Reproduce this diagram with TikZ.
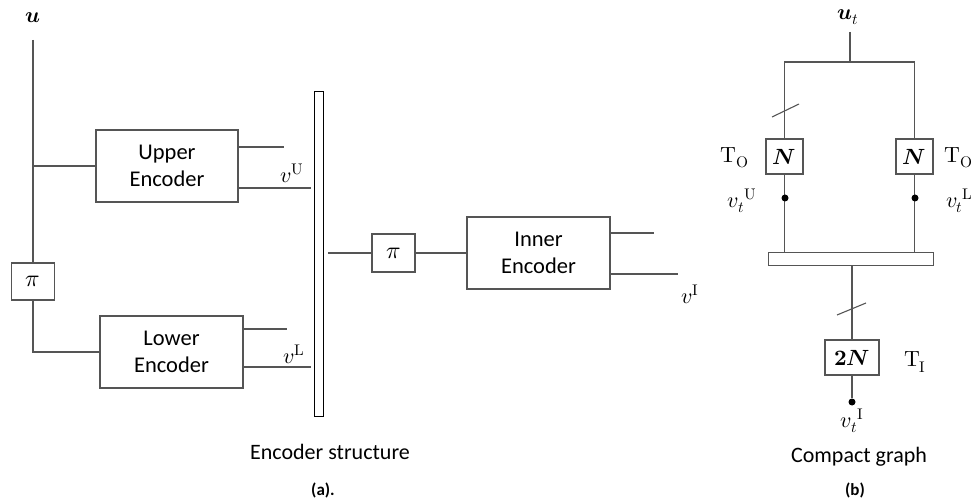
\documentclass[tikz,border=0pt]{standalone}
\usepackage{fontspec}
\usepackage{unicode-math}
\setmainfont{Carlito}
\setmathfont{Latin Modern Math}
\usetikzlibrary{calc}
\definecolor{ln}{RGB}{85,85,85}
\begin{document}
\begin{tikzpicture}[x=1pt,y=-1pt,
  wire/.style={draw=ln,line width=1.1pt},
  encbox/.style={draw=ln,line width=1.1pt,minimum width=142pt,minimum height=72pt,inner sep=0pt,
    align=center,font=\fontsize{22.5}{27}\selectfont},
  pibox/.style={draw=ln,line width=1.1pt,minimum width=43pt,minimum height=37pt,inner sep=0pt,
    font=\fontsize{24}{26}\selectfont},
  nbox/.style={draw=ln,line width=1.1pt,minimum width=37pt,minimum height=35pt,inner sep=0pt,
    font=\fontsize{22}{24}\selectfont},
  barbox/.style={draw=black,line width=1pt,inner sep=0pt},
  mlab/.style={inner sep=0pt,font=\fontsize{22}{24}\selectfont},
  txt/.style={inner sep=0pt,font=\fontsize{22}{26}\selectfont},
  sublab/.style={inner sep=0pt,font=\fontsize{17}{20}\selectfont\bfseries},
  dotnode/.style={circle,fill=black,draw=none,inner sep=0pt,minimum size=7pt}]
\useasboundingbox (0,0) rectangle (971,502);
% ---------- (a) encoder structure ----------
\node[encbox] (UE) at (167,166) {Upper\\Encoder};
\node[encbox,minimum width=143pt] (LE) at (171.5,352) {Lower\\Encoder};
\node[pibox] (pil) at (33,281.5) {$\pi$};
\node[barbox,minimum width=9pt,minimum height=324pt] (barA) at (318.5,254) {};
\node[pibox,minimum height=38pt] (pim) at (393.5,253) {$\pi$};
\node[encbox,minimum width=143pt] (IE) at (538.5,253) {Inner\\Encoder};

\node[mlab] (u) at (33,18) {$\symbfit{u}$};
\coordinate (uTop) at (33,40);
\draw[wire] (uTop) -- (pil.north);
\draw[wire] (UE.west -| uTop) -- (UE.west);
\draw[wire] (pil.south) |- (LE.west);

\coordinate (uo1) at (284,147);
\coordinate (uo2) at (311,188);
\draw[wire] (UE.east |- uo1) -- (uo1);
\draw[wire] (UE.east |- uo2) -- (uo2);
\coordinate (lo1) at (287,329);
\coordinate (lo2) at (311,367);
\draw[wire] (LE.east |- lo1) -- (lo1);
\draw[wire] (LE.east |- lo2) -- (lo2);
\node[mlab] (vU) at (292,173) {$v^{\symup{U}}$};
\node[mlab] (vL) at (294,354) {$v^{\symup{L}}$};

\coordinate (pin) at (328,253);
\draw[wire] (pin) -- (pim.west);
\draw[wire] (pim.east) -- (IE.west);
\coordinate (io1) at (654,233);
\coordinate (io2) at (678,274);
\draw[wire] (IE.east |- io1) -- (io1);
\draw[wire] (IE.east |- io2) -- (io2);
\node[mlab] (vI) at (690,294) {$v^{\symup{I}}$};

\node[txt] (capA) at (330,452) {Encoder structure};
\node[sublab] (labA) at (323,490) {(a).};

% ---------- (b) compact graph ----------
\node[mlab] (ut) at (848,17) {$\symbfit{u}_t$};
\coordinate (utTop) at (850,32);
\coordinate (jT) at (850,62);
\node[nbox] (Nl) at (784.5,156.5) {$\symbfit{N}$};
\node[nbox] (Nr) at (914.5,156.5) {$\symbfit{N}$};
\node[barbox,draw=ln,minimum width=165pt,minimum height=13pt] (barB) at (850.5,259.5) {};
\node[nbox,minimum width=54pt] (N2) at (852,357.5) {$\symbf{2}\symbfit{N}$};

\draw[wire] (utTop) -- (jT);
\draw[wire] (Nl.north) -- (Nl.north |- jT) -- (Nr.north |- jT) -- (Nr.north);
\coordinate (sl1) at (785.5,110.5);
\draw[wire] ($(sl1)+(-13.5,6.5)$) -- ($(sl1)+(13.5,-6.5)$);
\draw[wire] (Nl.south) -- (Nl.south |- barB.north);
\draw[wire] (Nr.south) -- (Nr.south |- barB.north);
\node[dotnode] (dl) at (785,198) {};
\node[dotnode] (dr) at (915,198) {};
\draw[wire] (barB.south -| N2.north) -- (N2.north);
\coordinate (sl2) at (851.5,309);
\draw[wire] ($(sl2)+(-14.5,6)$) -- ($(sl2)+(14.5,-6)$);
\node[dotnode] (db) at (852,402) {};
\draw[wire] (N2.south) -- (db);

\node[mlab] (TOl) at (735,158) {$\symup{T}_{\symup{O}}$};
\node[mlab,anchor=west] (TOr) at (944,158) {$\symup{T}_{\symup{O}}$};
\node[mlab] (vtU) at (742,201) {$v_t{}^{\symup{U}}$};
\node[mlab,anchor=west] (vtL) at (946,201) {$v_t{}^{\symup{L}}$};
\node[mlab] (TI) at (915,362) {$\symup{T}_{\symup{I}}$};
\node[mlab] (vtI) at (852,421) {$v_t{}^{\symup{I}}$};

\node[txt] (capB) at (859,457) {Compact graph};
\node[sublab] (labB) at (855,490) {(b)};
\end{tikzpicture}
\end{document}
